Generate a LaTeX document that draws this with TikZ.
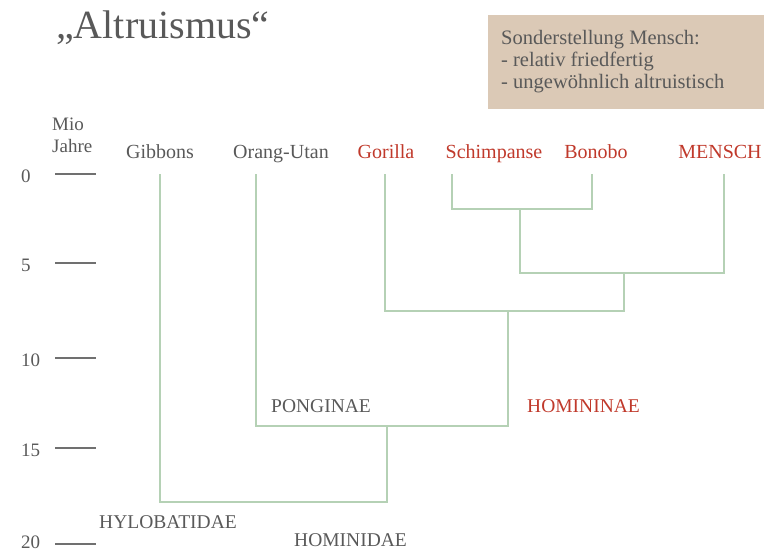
\documentclass[tikz,border=0pt]{standalone}
\usepackage{fontspec}
\setmainfont{Liberation Serif}
\definecolor{txt}{HTML}{595959}
\definecolor{redt}{HTML}{C0392B}
\definecolor{tree}{HTML}{B5D1B5}
\definecolor{boxfill}{HTML}{DBC9B6}
\definecolor{tick}{HTML}{707070}
\begin{document}
\begin{tikzpicture}[x=1pt,y=-1pt,
  lbl/.style={inner sep=0pt,anchor=base,text=txt,font=\fontsize{20}{22}\selectfont},
  redlbl/.style={lbl,text=redt},
  left/.style={inner sep=0pt,anchor=base west,text=txt,font=\fontsize{19.5}{22}\selectfont},
  clade/.style={left},
  num/.style={inner sep=0pt,anchor=west,text=txt,font=\fontsize{19}{22}\selectfont},
  branch/.style={draw=tree,line width=1.8pt},
  tickline/.style={draw=tick,line width=1.4pt}]
\useasboundingbox (0,0) rectangle (764,552);
% title
\node[inner sep=0pt,anchor=base west,text=txt,font=\fontsize{40}{44}\selectfont] (title) at (56,38) {„Altruismus“};
% info box
\fill[boxfill] (488,15) rectangle (764,109);
\node[left,font=\fontsize{20.5}{22}\selectfont] (info1) at (501,44) {Sonderstellung Mensch:};
\node[left,font=\fontsize{20.5}{22}\selectfont] (info2) at (501,66) {- relativ friedfertig};
\node[left,font=\fontsize{20.5}{22}\selectfont] (info3) at (501,88) {- ungewöhnlich altruistisch};
% axis label
\node[left,font=\fontsize{19}{22}\selectfont] (mio1) at (52,130) {Mio};
\node[left,font=\fontsize{19}{22}\selectfont] (mio2) at (52,152) {Jahre};
% ticks
\foreach \v/\yy in {0/174,5/263,10/358,15/448,20/544}{
  \draw[tickline] (55,\yy) -- (96,\yy);
}
\node[num] (n0) at (21,176) {0};
\node[num] (n5) at (21,265) {5};
\node[num] (n10) at (21,360) {10};
\node[num] (n15) at (21,450) {15};
\node[num] (n20) at (21,542.5) {20};
% species labels
\node[lbl] (gib) at (160,158) {Gibbons};
\node[lbl] (ora) at (281,158) {Orang-Utan};
\node[redlbl] (gor) at (386,158) {Gorilla};
\node[redlbl] (sch) at (494,158) {Schimpanse};
\node[redlbl] (bon) at (596,158) {Bonobo};
\node[redlbl] (men) at (720,158) {MENSCH};
% tree coordinates
\coordinate (tgib) at (160,174);
\coordinate (tora) at (256,174);
\coordinate (tgor) at (385,174);
\coordinate (tsch) at (452,174);
\coordinate (tbon) at (592,174);
\coordinate (tmen) at (724,174);
\coordinate (jpan) at (520,209);
\coordinate (jhomo) at (624,273);
\coordinate (jhomin) at (508,311);
\coordinate (jhomid) at (387,426);
\coordinate (jroot) at (387,502);
% tree
\draw[branch] (tsch) |- (jpan) -| (tbon);
\draw[branch] (jpan) |- (jhomo) -| (tmen);
\draw[branch] (jhomo) |- (jhomin) -| (tgor);
\draw[branch] (jhomin) |- (jhomid) -| (tora);
\draw[branch] (jhomid) |- (jroot) -| (tgib);
% clade labels
\node[clade] (pong) at (271,412) {PONGINAE};
\node[clade,text=redt] (homn) at (527,412) {HOMININAE};
\node[clade] (hylo) at (99,528) {HYLOBATIDAE};
\node[clade] (homd) at (294,546) {HOMINIDAE};
\end{tikzpicture}
\end{document}
